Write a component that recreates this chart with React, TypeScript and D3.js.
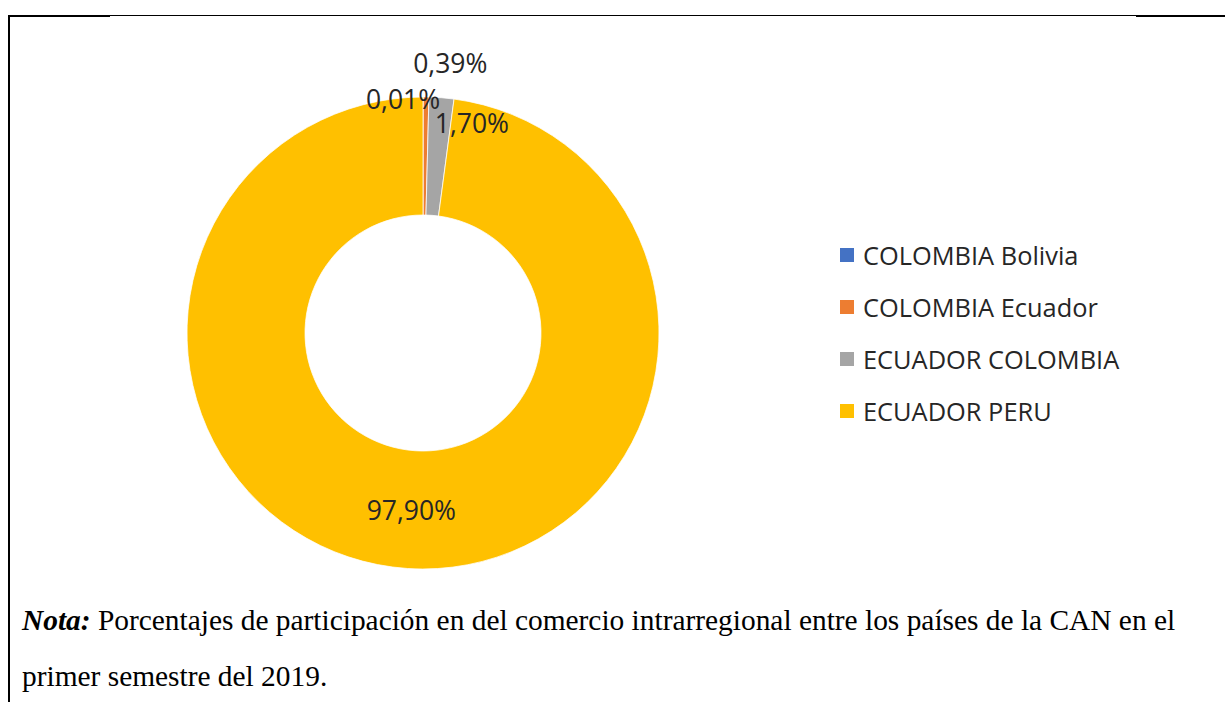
import * as d3 from 'd3'

// Share of intra-regional trade, CAN, first half 2019
const categories = ['COLOMBIA Bolivia', 'COLOMBIA Ecuador', 'ECUADOR COLOMBIA', 'ECUADOR PERU']
const values = [0.01, 0.39, 1.7, 97.9]
const labels = ['0,01%', '0,39%', '1,70%', '97,90%']
const colors = ['#4472C4', '#ED7D31', '#A5A5A5', '#FFC000']

// label nudges (Excel moves small labels out of the ring)
const labelShift: [number, number][] = [
  [-20, -57],
  [25, -93],
  [35, -34],
  [0, 0],
]

const W = 1225
const H = 702

const App = () => {
  const cx = 423
  const cy = 333
  const outerR = 236
  const innerR = 118

  const pie = d3
    .pie<number>()
    .sort(null)
    .value((d) => d)
  const arcs = pie(values)
  const arc = d3.arc<d3.PieArcDatum<number>>().innerRadius(innerR).outerRadius(outerR)

  const legendY = d3.scalePoint<string>().domain(categories).range([255, 411])

  return (
    <svg
      width={W}
      height={H}
      style={{ position: 'absolute', left: 0, top: 0, display: 'block', background: '#fff' }}
    >
      {/* frame */}
      <line x1={8} x2={1225} y1={15.5} y2={15.5} stroke="#000" strokeWidth={1} />
      <rect x={8} y={15} width={102} height={2} fill="#000" />
      <rect x={1136} y={15} width={89} height={2} fill="#000" />
      <rect x={8} y={15} width={2} height={H - 15} fill="#000" />

      <g transform={`translate(${cx},${cy})`}>
        {arcs.map((a, i) => (
          <path key={categories[i]} d={arc(a) ?? ''} fill={colors[i]} stroke="#fff" strokeWidth={0.75} />
        ))}
        {arcs.map((a, i) => {
          const [x, y] = arc.centroid(a)
          return (
            <text
              key={'l' + i}
              x={x + labelShift[i][0]}
              y={y + labelShift[i][1]}
              textAnchor="middle"
              dominantBaseline="central"
              fontFamily="'Open Sans', sans-serif"
              fontSize={26.5}
              fill="#262626"
            >
              {labels[i]}
            </text>
          )
        })}
      </g>

      {/* legend */}
      <g fontFamily="'Open Sans', sans-serif" fontSize={25.4} fill="#262626">
        {categories.map((c, i) => (
          <g key={c} transform={`translate(840,${legendY(c)})`}>
            <rect x={0} y={-7} width={14} height={14} fill={colors[i]} />
            <text x={23} y={0} dominantBaseline="central">
              {c}
            </text>
          </g>
        ))}
      </g>

      {/* note */}
      <g fontFamily="'Liberation Serif', 'Times New Roman', serif" fontSize={29.4} fill="#000">
        <text x={22} y={630}>
          <tspan fontWeight="bold" fontStyle="italic">
            Nota:
          </tspan>
          <tspan> Porcentajes de participación en del comercio intrarregional entre los países de la CAN en el</tspan>
        </text>
        <text x={22} y={686}>
          primer semestre del 2019.
        </text>
      </g>
    </svg>
  )
}

export default App
